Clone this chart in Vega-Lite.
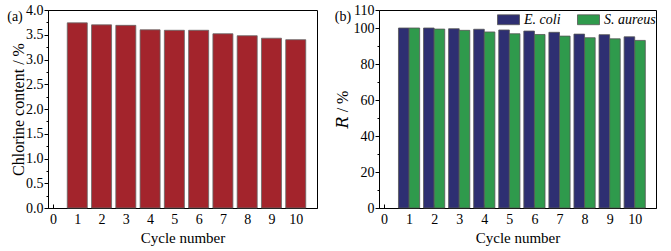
{
  "$schema": "https://vega.github.io/schema/vega-lite/v6.json",
  "padding": {"left": 6, "top": 2, "right": 0, "bottom": 0},
  "spacing": 15,
  "config": {
    "font": "Liberation Serif",
    "view": {"stroke": "black", "strokeWidth": 1},
    "axis": {
      "labelFont": "Liberation Serif",
      "titleFont": "Liberation Serif, DejaVu Serif",
      "labelFontSize": 14,
      "titleFontSize": 15,
      "titleFontWeight": "normal",
      "labelColor": "black",
      "titleColor": "black",
      "domainColor": "black",
      "tickColor": "black",
      "grid": false
    },
    "axisY": {"titleFontSize": 16},
    "text": {"font": "Liberation Serif", "fontSize": 14, "color": "black"}
  },
  "hconcat": [
    {
      "width": 269,
      "height": 198,
      "encoding": {
        "x": {
          "type": "quantitative",
          "scale": {"domain": [0, 10.67], "nice": false, "zero": false},
          "axis": {
            "title": "Cycle number",
            "format": "d",
            "values": [0, 0.5, 1, 1.5, 2, 2.5, 3, 3.5, 4, 4.5, 5, 5.5, 6, 6.5, 7, 7.5, 8, 8.5, 9, 9.5, 10, 10.5],
            "labelExpr": "datum.value % 1 === 0 ? datum.label : ''",
            "tickSize": {"condition": {"test": "datum.value % 1 === 0", "value": -4}, "value": -2},
            "labelPadding": 8,
            "titlePadding": 4,
            "labelFlush": false
          }
        },
        "y": {
          "type": "quantitative",
          "scale": {"domain": [0, 4], "nice": false},
          "axis": {
            "title": "Chlorine content / %",
            "values": [0, 0.25, 0.5, 0.75, 1, 1.25, 1.5, 1.75, 2, 2.25, 2.5, 2.75, 3, 3.25, 3.5, 3.75, 4],
            "format": ".1f",
            "labelExpr": "datum.value % 0.5 === 0 ? datum.label : ''",
            "tickSize": {"condition": {"test": "datum.value % 0.5 === 0", "value": 4}, "value": 2},
            "labelPadding": 1,
            "titlePadding": -1,
            "labelFlush": false
          }
        }
      },
      "layer": [
        {
          "data": {"values": [
            {"cycle": 1, "chlorine": 3.74},
            {"cycle": 2, "chlorine": 3.70},
            {"cycle": 3, "chlorine": 3.69},
            {"cycle": 4, "chlorine": 3.60},
            {"cycle": 5, "chlorine": 3.59},
            {"cycle": 6, "chlorine": 3.59},
            {"cycle": 7, "chlorine": 3.52},
            {"cycle": 8, "chlorine": 3.48},
            {"cycle": 9, "chlorine": 3.43},
            {"cycle": 10, "chlorine": 3.40}
          ]},
          "mark": {"type": "bar", "size": 20, "color": "#a3242c", "stroke": "#666666", "strokeWidth": 0.8},
          "encoding": {
            "x": {"field": "cycle", "type": "quantitative"},
            "y": {"field": "chlorine", "type": "quantitative"}
          }
        },
        {
          "data": {"values": [{"label": "(a)", "px": 0, "py": 4}]},
          "mark": {"type": "text", "align": "center", "baseline": "middle", "dx": -38, "dy": 7, "clip": false},
          "encoding": {
            "x": {"field": "px", "type": "quantitative"},
            "y": {"field": "py", "type": "quantitative"},
            "text": {"field": "label"}
          }
        }
      ]
    },
    {
      "width": 277,
      "height": 198,
      "encoding": {
        "x": {
          "type": "quantitative",
          "scale": {"domain": [0, 10.65], "nice": false, "zero": false},
          "axis": {
            "title": "Cycle number",
            "format": "d",
            "values": [0, 0.5, 1, 1.5, 2, 2.5, 3, 3.5, 4, 4.5, 5, 5.5, 6, 6.5, 7, 7.5, 8, 8.5, 9, 9.5, 10, 10.5],
            "labelExpr": "datum.value % 1 === 0 ? datum.label : ''",
            "tickSize": {"condition": {"test": "datum.value % 1 === 0", "value": -4}, "value": -2},
            "labelPadding": 8,
            "titlePadding": 4,
            "labelFlush": false
          }
        },
        "y": {
          "type": "quantitative",
          "scale": {"domain": [0, 110], "nice": false},
          "axis": {
            "title": "𝑅 / %",
            "values": [0, 10, 20, 30, 40, 50, 60, 70, 80, 90, 100, 110],
            "labelExpr": "datum.value % 20 === 0 || datum.value === 110 ? datum.label : ''",
            "tickSize": {"condition": {"test": "datum.value % 20 === 0 || datum.value === 110", "value": 4}, "value": 2},
            "labelPadding": 1,
            "titlePadding": 3,
            "labelFlush": false
          }
        }
      },
      "layer": [
        {
          "data": {"values": [
            {"cycle": 1, "strain": "E. coli", "R": 100},
            {"cycle": 2, "strain": "E. coli", "R": 100},
            {"cycle": 3, "strain": "E. coli", "R": 99.6},
            {"cycle": 4, "strain": "E. coli", "R": 99.3},
            {"cycle": 5, "strain": "E. coli", "R": 98.9},
            {"cycle": 6, "strain": "E. coli", "R": 98.3},
            {"cycle": 7, "strain": "E. coli", "R": 97.6},
            {"cycle": 8, "strain": "E. coli", "R": 96.6},
            {"cycle": 9, "strain": "E. coli", "R": 96.3},
            {"cycle": 10, "strain": "E. coli", "R": 95.1}
          ]},
          "mark": {"type": "bar", "size": 10.6, "xOffset": -5.3, "stroke": "#555555", "strokeWidth": 0.8},
          "encoding": {
            "x": {"field": "cycle", "type": "quantitative"},
            "y": {"field": "R", "type": "quantitative"},
            "color": {
              "field": "strain", "type": "nominal",
              "scale": {"domain": ["E. coli", "S. aureus"], "range": ["#2e2f72", "#2f9a4c"]},
              "legend": {
                "title": null,
                "orient": "none",
                "legendX": 449,
                "legendY": -2,
                "direction": "horizontal",
                "symbolType": "M-1,-0.45H1V0.45H-1Z",
                "symbolSize": 484,
                "symbolStrokeColor": "#555555",
                "symbolStrokeWidth": 0.8,
                "labelFont": "Liberation Serif",
                "labelFontSize": 14,
                "labelFontStyle": "italic",
                "labelColor": "black",
                "labelOffset": 4,
                "columnPadding": 14
              }
            }
          }
        },
        {
          "data": {"values": [
            {"cycle": 1, "strain": "S. aureus", "R": 100},
            {"cycle": 2, "strain": "S. aureus", "R": 99.4},
            {"cycle": 3, "strain": "S. aureus", "R": 98.7},
            {"cycle": 4, "strain": "S. aureus", "R": 97.8},
            {"cycle": 5, "strain": "S. aureus", "R": 96.8},
            {"cycle": 6, "strain": "S. aureus", "R": 96.4},
            {"cycle": 7, "strain": "S. aureus", "R": 95.5},
            {"cycle": 8, "strain": "S. aureus", "R": 94.6},
            {"cycle": 9, "strain": "S. aureus", "R": 94.0},
            {"cycle": 10, "strain": "S. aureus", "R": 93.1}
          ]},
          "mark": {"type": "bar", "size": 10.6, "xOffset": 5.3, "stroke": "#555555", "strokeWidth": 0.8},
          "encoding": {
            "x": {"field": "cycle", "type": "quantitative"},
            "y": {"field": "R", "type": "quantitative"},
            "color": {"field": "strain", "type": "nominal"}
          }
        },
        {
          "data": {"values": [{"label": "(b)", "px": 0, "py": 110}]},
          "mark": {"type": "text", "align": "center", "baseline": "middle", "dx": -41, "dy": 7, "clip": false},
          "encoding": {
            "x": {"field": "px", "type": "quantitative"},
            "y": {"field": "py", "type": "quantitative"},
            "text": {"field": "label"}
          }
        }
      ]
    }
  ]
}
